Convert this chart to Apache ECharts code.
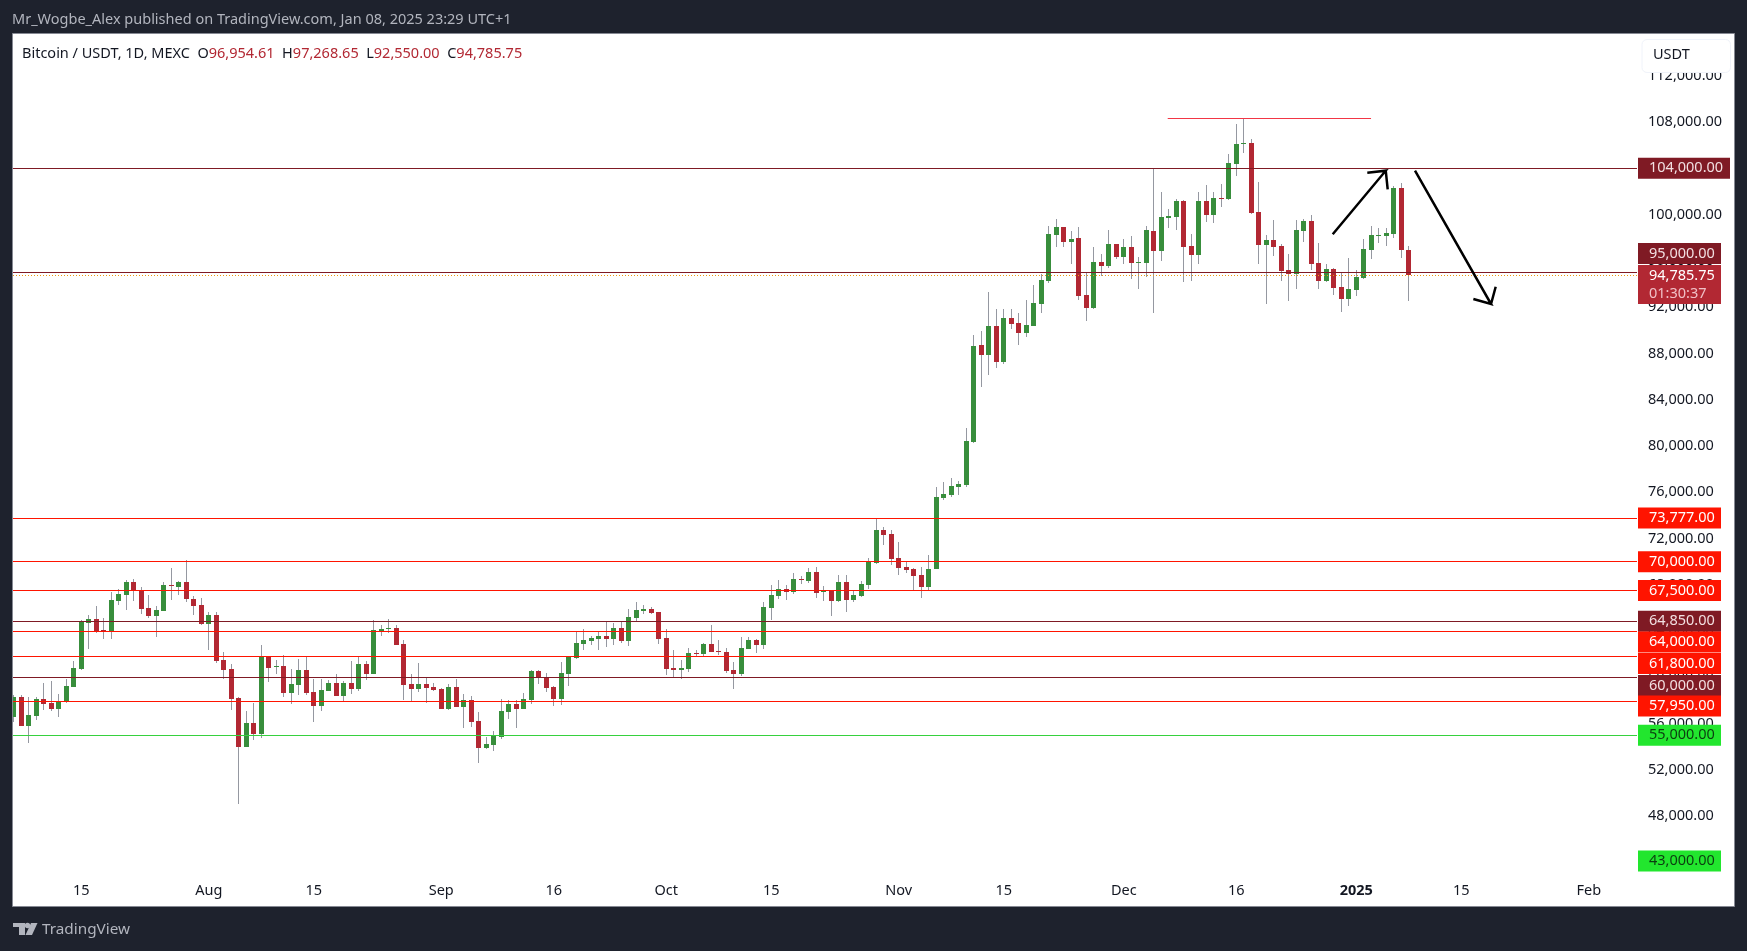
<!DOCTYPE html>
<html>
<head>
<meta charset="utf-8">
<title>Bitcoin / USDT, 1D, MEXC</title>
<script src="https://cdn.jsdelivr.net/npm/echarts@6/dist/echarts.min.js"></script>
<style>
  html, body { margin: 0; padding: 0; background: #1e222d; }
  #chart { width: 1747px; height: 951px; }
</style>
</head>
<body>
<div id="chart"></div>
<script>
// Daily candles, first session 6 Jul 2024, last session 8 Jan 2025.
const opens = [
  56576,58304,55798,56662,58132,57786,57267,57872,59169,60725,
  64700,65046,64095,63951,66602,67120,68244,67495,65997,65305,
  65737,67985,67812,68244,66775,66256,64614,65392,61502,60725,
  58218,53983,56057,55107,61790,60897,60984,58650,59341,60638,
  58736,57526,58823,59514,58391,59514,58996,61156,60292,63980,
  64182,64268,62885,59428,58996,59428,59169,58996,57267,59169,
  57440,58045,56230,53896,54156,54847,57008,57699,57267,58045,
  60551,60004,59169,58132,60292,61675,62885,63144,63317,63577,
  63317,64268,63144,65132,65737,65910,65651,63404,60811,60638,
  60724,62107,62021,62885,62280,62194,60638,60292,62453,63231,
  62799,65997,67034,67639,67380,68503,68331,69108,67380,67466,
  66602,68244,66688,67034,67985,69886,72738,72393,70318,69541,
  69368,68849,67812,69368,75504,75763,76455,76628,80344,88728,
  87863,90370,87258,91061,90629,89765,90370,92271,94259,98235,
  98926,97630,97975,93049,91926,95901,95555,97457,96333,97197,
  95815,95815,98581,96852,99733,99791,101174,97284,96506,101174,
  99964,101433,101346,104371,106100,106187,100223,97371,97803,97284,
  95210,94864,98581,99445,95815,94259,95296,93741,92703,93481,
  94518,96938,98149,98149,98321,102297,96954.61
];
const highs = [
  58477,58477,58304,58304,59515,59687,58564,59860,61416,64960,
  65392,66170,65132,67380,67639,68417,68503,67812,67120,66170,
  68244,69454,68330,70145,67034,66861,65651,65651,62194,61157,
  58304,57094,57786,62799,61790,61502,61934,60724,61589,61848,
  59860,59860,59774,60292,59687,61416,61848,61416,64959,64527,
  65046,64527,63231,60292,61243,59946,59514,59082,59428,59860,
  58564,58391,57008,54847,55366,58131,58045,58045,58650,60638,
  60638,60379,59255,61329,61848,63922,64182,63577,64009,64787,
  64700,64873,65910,66515,66256,66083,65651,64182,62367,61502,
  62539,62367,62972,64527,63231,62539,61329,63490,63490,63317,
  66515,67985,68417,67985,69022,68763,69454,69541,67898,67553,
  68849,68849,67466,68331,70318,73747,72998,72738,71701,69973,
  69454,69541,70578,76455,76887,77233,76973,81554,89592,89938,
  93309,91839,91839,91839,91494,92617,93914,94864,99013,99618,
  98926,98580,98926,95037,97198,96592,98667,97457,97889,98148,
  96333,99013,104026,101951,100482,101346,101260,98321,101951,102556,
  101951,102643,105236,107829,108347,106532,102816,98235,99531,97457,
  96593,99531,99618,99964,97544,95728,95383,95037,96247,95210,
  97889,99013,98840,98840,102470,102729,97268.65
];
const lows = [
  56115,55798,54358,56317,57181,57094,56576,57786,59169,60638,
  62453,63865,63317,63317,66256,65824,66602,65478,65132,63490,
  65737,66688,67120,66515,65392,64527,62367,61243,59860,57181,
  49056,53983,54588,54761,59601,60292,58304,57699,58477,58477,
  56144,57094,58823,58391,57872,58564,58823,59774,60292,63577,
  63836,62799,58045,57872,58736,57786,58823,57267,57181,57440,
  55625,55711,52600,53810,53637,54674,56403,55625,57267,57699,
  59428,58736,57527,57613,59255,61589,62367,62799,62367,62626,
  62799,62972,62712,64873,65478,65478,62885,60206,60033,59860,
  60465,61762,61848,62194,61934,60379,58996,60119,62453,62107,
  62453,64960,66775,66688,67207,68071,68158,66861,66602,65306,
  66516,65651,66516,66948,67639,69800,71442,69713,68849,69022,
  67553,66861,67553,69368,75331,75590,75763,76455,80258,85098,
  86135,86740,87086,90111,88728,89419,90370,91494,94086,97197,
  97197,95728,92617,90802,91839,94691,95382,96160,95728,94432,
  93567,94605,91493,95988,98840,98667,94173,94259,95728,99359,
  99272,100655,101260,103334,105322,100050,95728,92271,96420,94259,
  92531,93568,97630,95210,93568,94173,93049,91580,92098,92963,
  94432,96161,97544,97284,97976,96247,92550
];
const closes = [
  58304,55798,56749,58132,57699,57267,57959,59255,60811,64816,
  65046,63951,63980,66688,67207,68244,67495,65910,65305,65824,
  67985,67898,68244,66775,66170,64614,65392,61416,60638,58132,
  53983,56057,55107,61790,60811,60984,58650,59428,60638,58650,
  57526,58909,59514,58391,59514,58996,61156,60292,64095,64182,
  64239,62799,59341,58996,59428,59082,58909,57267,59169,57440,
  58045,56144,53896,54242,54934,57094,57699,57267,58131,60551,
  59946,59082,58132,60379,61762,62972,63231,63404,63577,63317,
  64268,63144,65219,65824,65910,65565,63317,60724,60638,60811,
  62107,62021,62885,62194,62194,60552,60292,62539,63231,62799,
  66083,67121,67639,67380,68503,68417,69108,67294,67466,66602,
  68244,66688,67121,68071,70002,72738,72306,70232,69454,69281,
  68763,67812,69368,75591,75850,76541,76714,80430,88641,87863,
  90370,87258,91061,90543,89765,90456,92358,94346,98321,98926,
  97630,97889,92962,91926,95901,95555,97457,96333,97197,95815,
  95901,98667,96852,99791,99877,101174,97198,96506,101174,99964,
  101433,101346,104458,106100,106187,100137,97371,97803,97198,95123,
  94864,98667,99445,95728,94259,95296,93654,92703,93568,94605,
  97025,98235,98235,98408,102297,96955,94785.75
];

// Session offsets (days since the first candle) that carry a time-scale label.
const timeTickDays = [9, 26, 40, 57, 72, 87, 101, 118, 132, 148, 163, 179, 193, 210];
const timeTickLabels = ['15', 'Aug', '15', 'Sep', '16', 'Oct', '15', 'Nov', '15', 'Dec', '16', '2025', '15', 'Feb'];
const priceTicks = [48000, 52000, 56000, 60000, 64000, 68000, 72000, 76000, 80000, 84000, 88000, 92000, 96000, 100000, 104000, 108000, 112000];

// Horizontal levels the author marked on the chart.
const levelPrices = [104000, 95000, 73777, 70000, 67500, 64850, 64000, 61800, 60000, 57950, 55000, 43000];
const countdown = '01:30:37';

// Trend line above the December top, and the two hand-drawn arrows (day offset, price).
const topLine = [[153.86, 108321], [180.97, 108321]];
const upArrow = [[175.86, 98296], [182.93, 103793], [180.47, 103620], [182.93, 103793], [183.19, 102185]];
const downArrow = [[186.83, 103793], [196.97, 92271], [194.61, 92704], [196.97, 92271], [197.59, 93767]];

const FONT = '"Noto Sans", "Open Sans", sans-serif';
const TEXT_SIZE = 14.5;
const MAROON = '#7f1a24', RED = '#ff1400', GREEN = '#22e62e', LIGHT = '#f2dfe1', WHITE = '#ffffff', DARK = '#0c3d10';

// Badge look per level: colour, text colour, width, vertical shift away from neighbouring badges.
const levelLook = {
  104000: { line: MAROON, bg: MAROON, fg: LIGHT, w: 92, shift: 0 },
  95000:  { line: MAROON, bg: MAROON, fg: LIGHT, w: 83, shift: -19 },
  73777:  { line: RED, bg: RED, fg: WHITE, w: 83, shift: 0 },
  70000:  { line: RED, bg: RED, fg: WHITE, w: 83, shift: 0 },
  67500:  { line: RED, bg: RED, fg: WHITE, w: 83, shift: 0 },
  64850:  { line: MAROON, bg: MAROON, fg: LIGHT, w: 83, shift: 0 },
  64000:  { line: RED, bg: RED, fg: WHITE, w: 83, shift: 11 },
  61800:  { line: RED, bg: RED, fg: WHITE, w: 83, shift: 7 },
  60000:  { line: MAROON, bg: MAROON, fg: LIGHT, w: 83, shift: 8 },
  57950:  { line: RED, bg: RED, fg: WHITE, w: 83, shift: 5 },
  55000:  { line: '#36d13e', bg: GREEN, fg: DARK, w: 83, shift: 0 },
  43000:  { line: 'transparent', bg: GREEN, fg: DARK, w: 83, shift: -13 }
};

const money = v => v.toLocaleString('en-US', { minimumFractionDigits: 2, maximumFractionDigits: 2 });

const candleRows = opens.map((o, i) => [i, o, highs[i], lows[i], closes[i]]);
const last = candleRows[candleRows.length - 1];

function renderCandle(params, api) {
  const day = api.value(0), o = api.value(1), h = api.value(2), l = api.value(3), c = api.value(4);
  const x = Math.floor(api.coord([day, o])[0]);
  const yo = api.coord([day, o])[1], yc = api.coord([day, c])[1];
  const yh = api.coord([day, h])[1], yl = api.coord([day, l])[1];
  const top = Math.round(Math.min(yo, yc));
  const height = Math.max(1, Math.round(Math.max(yo, yc)) - top);
  const area = params.coordSys;
  const clip = r => echarts.graphic.clipRectByRect(r, area);
  const wick = clip({ x: x, y: Math.round(yh), width: 1, height: Math.max(1, Math.round(yl) - Math.round(yh)) });
  const body = clip({ x: x - 2, y: top, width: 5, height: height });
  return {
    type: 'group',
    children: [
      wick && { type: 'rect', shape: wick, style: { fill: '#9598a1' } },
      body && { type: 'rect', shape: body, style: { fill: c >= o ? '#388e3c' : '#b22833' } }
    ].filter(Boolean)
  };
}

const levelMarks = levelPrices.map(p => {
  const k = levelLook[p];
  return {
    yAxis: p,
    lineStyle: { color: k.line, width: 1, type: 'solid' },
    label: {
      show: true, position: 'end', distance: 1,
      formatter: money(p), offset: [0, k.shift],
      color: k.fg, backgroundColor: k.bg,
      fontFamily: FONT, fontSize: TEXT_SIZE,
      width: k.w - 11, height: 19, lineHeight: 19,
      padding: [2, 0, 0, 11], align: 'left', verticalAlign: 'middle'
    }
  };
});

const lastPriceMark = {
  yAxis: last[4],
  lineStyle: { color: '#f0960f', width: 1, type: [1, 2] },
  label: {
    show: true, position: 'end', distance: 1,
    formatter: '{p|' + money(last[4]) + '}\n{t|' + countdown + '}',
    offset: [0, 9.5],
    backgroundColor: '#b22833',
    padding: [2, 0, 1, 11], align: 'left', verticalAlign: 'middle',
    width: 72,
    rich: {
      p: { color: '#ffffff', fontFamily: FONT, fontSize: TEXT_SIZE, height: 18, lineHeight: 18 },
      t: { color: '#f0c0c6', fontFamily: FONT, fontSize: TEXT_SIZE, height: 18, lineHeight: 18 }
    }
  }
};

const headerText = '{n|Bitcoin / USDT, 1D, MEXC}  {n|O}{v|' + money(last[1]) + '}  {n|H}{v|' + money(last[2]) +
  '}  {n|L}{v|' + money(last[3]) + '}  {n|C}{v|' + money(last[4]) + '}';

const chart = echarts.init(document.getElementById('chart'), null, { renderer: 'canvas', width: 1747, height: 951 });
chart.setOption({
  animation: false,
  backgroundColor: '#1e222d',
  grid: { left: 13, right: 110, top: 34, bottom: 76, containLabel: false },
  xAxis: {
    type: 'value', min: -0.1, max: 216.43,
    axisLine: { show: false }, axisTick: { show: false }, splitLine: { show: false },
    axisLabel: {
      customValues: timeTickDays, margin: 8, color: '#131722', fontFamily: FONT, fontSize: TEXT_SIZE,
      formatter: v => {
        const t = timeTickLabels[timeTickDays.indexOf(v)];
        return t === '2025' ? '{b|' + t + '}' : t;
      },
      rich: { b: { fontWeight: 'bold', color: '#131722', fontFamily: FONT, fontSize: TEXT_SIZE } }
    }
  },
  yAxis: {
    type: 'value', position: 'right', min: 42920, max: 115608, scale: true,
    axisLine: { show: false }, axisTick: { show: false }, splitLine: { show: false },
    axisLabel: {
      customValues: priceTicks, margin: 11, color: '#131722', fontFamily: FONT, fontSize: TEXT_SIZE,
      formatter: v => money(v)
    }
  },
  graphic: [
    { type: 'rect', z: -100, shape: { x: 12.5, y: 33.5, width: 1722, height: 873 },
      style: { fill: '#ffffff', stroke: '#868993', lineWidth: 1 } },
    { type: 'text', z: 100, x: 12, y: 20, style: {
        text: 'Mr_Wogbe_Alex published on TradingView.com, Jan 08, 2025 23:29 UTC+1',
        fill: '#b2b5be', font: TEXT_SIZE + 'px ' + FONT, verticalAlign: 'middle' } },
    { type: 'text', z: 100, x: 22, y: 54, style: {
        text: headerText, verticalAlign: 'middle', font: TEXT_SIZE + 'px ' + FONT,
        rich: {
          n: { fill: '#131722', font: TEXT_SIZE + 'px ' + FONT },
          v: { fill: '#b22833', font: TEXT_SIZE + 'px ' + FONT }
        } } },
    { type: 'rect', z: 100, shape: { x: 1642, y: 39.5, width: 88.5, height: 33, r: 5 },
      style: { fill: '#ffffff', stroke: '#f0f3fa', lineWidth: 1 } },
    { type: 'text', z: 101, x: 1653, y: 55, style: {
        text: 'USDT', fill: '#131722', font: TEXT_SIZE + 'px ' + FONT, verticalAlign: 'middle' } },
    { type: 'group', z: 100, children: [
      { type: 'polygon', z: 100, shape: { points: [[13, 923], [25, 923], [25, 935], [19, 935], [19, 927], [13, 927]] }, style: { fill: '#b2b5be' } },
      { type: 'circle', z: 100, shape: { cx: 27.5, cy: 925.5, r: 2.7 }, style: { fill: '#b2b5be' } },
      { type: 'polygon', z: 100, shape: { points: [[31, 923], [37.5, 923], [32, 935], [25.5, 935]] }, style: { fill: '#b2b5be' } }
    ] },
    { type: 'text', z: 100, x: 42, y: 930, style: {
        text: 'TradingView', fill: '#b2b5be', font: '15.3px ' + FONT, verticalAlign: 'middle' } }
  ],
  series: [
    {
      type: 'line', data: [], silent: true, z: 1,
      markLine: {
        silent: true, symbol: 'none', animation: false,
        data: levelMarks.concat([lastPriceMark])
      }
    },
    {
      type: 'custom', data: candleRows, renderItem: renderCandle, silent: true, z: 3,
      encode: { x: 0, y: [1, 2, 3, 4] }
    },
    {
      type: 'line', data: [], silent: true, z: 4,
      markLine: {
        silent: true, symbol: 'none', animation: false, label: { show: false },
        lineStyle: { color: '#f23645', width: 1, type: 'solid' },
        data: [[{ coord: topLine[0] }, { coord: topLine[1] }]]
      }
    },
    { type: 'line', data: upArrow, showSymbol: false, symbol: 'none', silent: true, z: 5,
      lineStyle: { color: '#000000', width: 2.5, join: 'miter' } },
    { type: 'line', data: downArrow, showSymbol: false, symbol: 'none', silent: true, z: 5,
      lineStyle: { color: '#000000', width: 2.5, join: 'miter' } }
  ]
});
</script>
</body>
</html>
